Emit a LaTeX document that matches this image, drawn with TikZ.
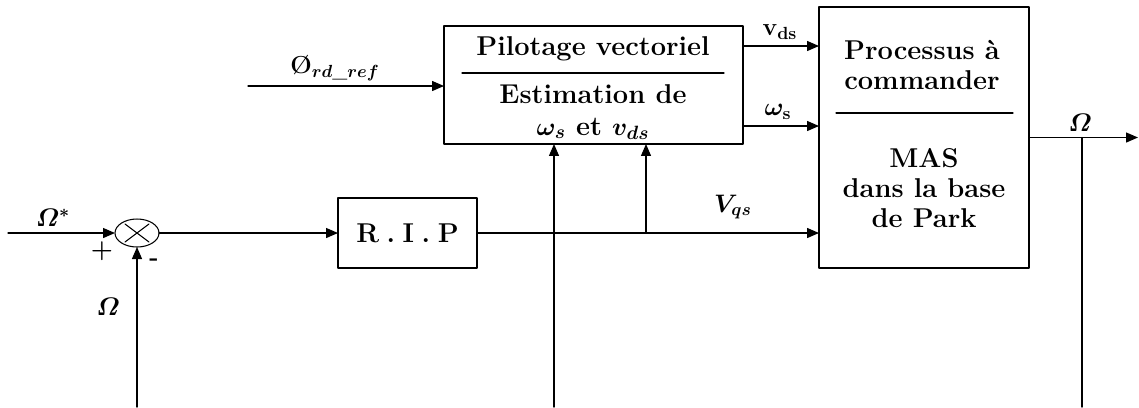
\documentclass[tikz,border=0pt]{standalone}
\usepackage{amsmath,amssymb}
\usepackage{tikz}
\usetikzlibrary{arrows.meta,positioning,calc,shapes.geometric}
\tikzset{
    every picture/.style={line cap=round,line join=round},
    blockbox/.style={draw,line width=0.7pt,inner sep=0pt,outer sep=0pt},
    blocktext/.style={font=\fontsize{15.5}{17}\selectfont\bfseries\boldmath,
      align=center,inner sep=0pt},
    sumnode/.style={draw,ellipse,line width=0.6pt,minimum width=0.88cm,
      minimum height=0.56cm,inner sep=0pt,outer sep=0pt},
    sigarrow/.style={-{Triangle[length=2.4mm,width=2mm]},line width=0.75pt},
    sigline/.style={line width=0.75pt},
    sepline/.style={line width=0.6pt},
    siglabel/.style={font=\fontsize{14}{16}\selectfont\bfseries\boldmath,inner sep=0pt}
}

\begin{document}
\begin{tikzpicture}[x=0.02cm,y=-0.02cm]
  \useasboundingbox (0,0) rectangle (1139,407);
  % blocks
  \node[blockbox,minimum width=5.98cm,minimum height=2.36cm] (pilot) at (593.5,85) {};
  \node[blockbox,minimum width=4.2cm,minimum height=5.22cm] (proc) at (924,137.5) {};
  \node[blockbox,blocktext,minimum width=2.78cm,minimum height=1.4cm] (rip) at (407.5,233) {R\;.\;I\;.\;P};
  \node[sumnode] (sum) at (137,233) {};
  \draw[sepline] (sum.center) +(-12,-9) -- +(12,9) (sum.center) +(-12,9) -- +(12,-9);

  % texts in the blocks
  \node[blocktext] (pilottxt) at (593,49) {Pilotage vectoriel};
  \node[blocktext] (esttxt) at (593,112) {Estimation de\\[1pt]$\omega_s$ et $v_{ds}$};
  \draw[sepline] (462,73) -- (724,73);
  \node[blocktext] (proctxt) at (922,65) {Processus à\\commander};
  \node[blocktext] (mastxt) at (924,188) {MAS\\dans la base\\de Park};
  \draw[sepline] (836,113) -- (1013,113);

  % free ends
  \coordinate (inL) at (8,233);
  \coordinate (fbB) at (137,407);
  \coordinate (phiL) at (248,86);
  \coordinate (estB) at (554,407);
  \coordinate (vqsT) at (646,233);
  \coordinate (vdsY) at (0,46);
  \coordinate (wsY) at (0,126);
  \coordinate (omJ) at (1082,137.5);
  \coordinate (omR) at (1138,137.5);
  \coordinate (omB) at (1082,407);

  \draw[sigarrow] (inL) -- (sum.west);
  \draw[sigarrow] (fbB) -- (sum.south);
  \draw[sigarrow] (sum.east) -- (rip.west);
  \draw[sigarrow] (rip.east) -- (proc.west |- rip.east);
  \draw[sigarrow] (vqsT) -- (pilot.south -| vqsT);
  \draw[sigarrow] (estB) -- (pilot.south -| estB);
  \draw[sigarrow] (phiL) -- (pilot.west |- phiL);
  \draw[sigarrow] (pilot.east |- vdsY) -- (proc.west |- vdsY);
  \draw[sigarrow] (pilot.east |- wsY) -- (proc.west |- wsY);
  \draw[sigarrow] (proc.east) -- (omR);
  \draw[sigline] (omJ) -- (omB);

  % labels
  \node[siglabel] (omstar) at (53,218) {$\varOmega^{*}$};
  \node[siglabel] (plus) at (102,251) {$\boldsymbol{+}$};
  \node[siglabel] (minus) at (154,262) {-};
  \node[siglabel] (omfb) at (108,307) {$\varOmega$};
  \node[siglabel] (philbl) at (335,68) {\O$_{rd\_ref}$};
  \node[siglabel] (vdslbl) at (780,32) {v$_{\mathbf{ds}}$};
  \node[siglabel] (wslbl) at (778,112) {$\omega_{\mathbf{s}}$};
  \node[siglabel] (vqslbl) at (733,207) {$V_{qs}$};
  \node[siglabel] (omout) at (1080,123) {$\varOmega$};
\end{tikzpicture}
\end{document}
